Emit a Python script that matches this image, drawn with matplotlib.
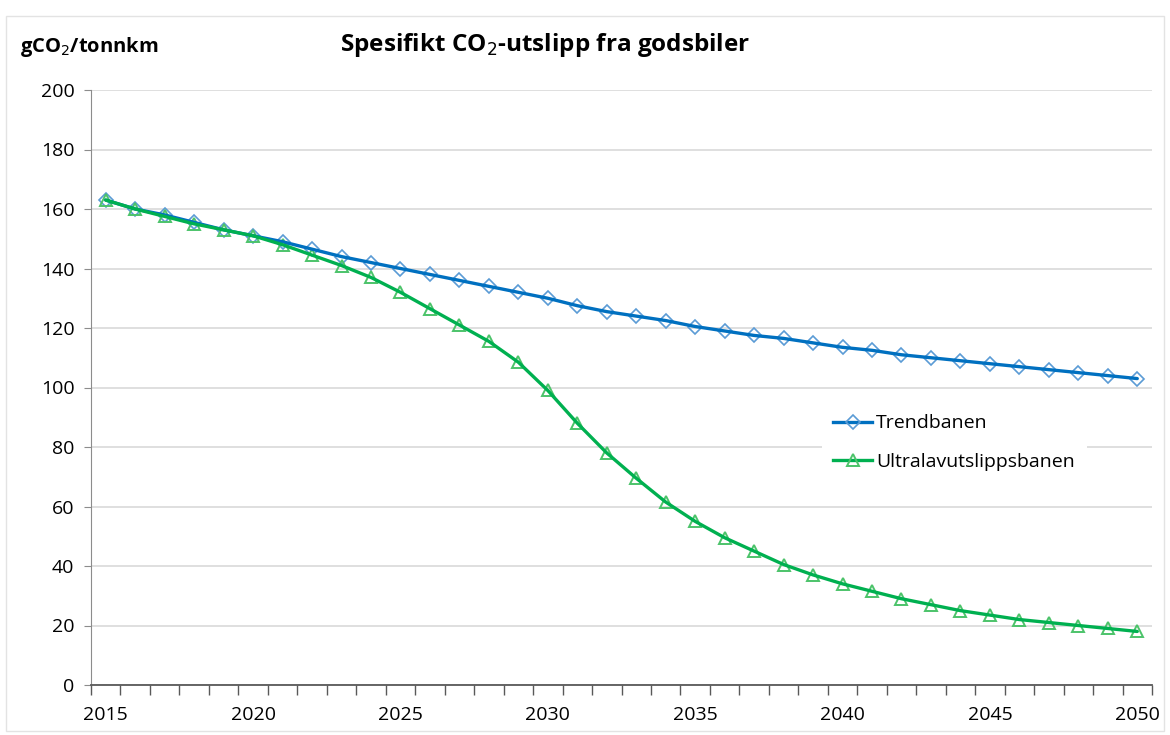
import numpy as np
import matplotlib
matplotlib.use("Agg")
import matplotlib.pyplot as plt
from matplotlib.lines import Line2D
from matplotlib.patches import Rectangle

plt.rcParams['font.family'] = ['Open Sans', 'DejaVu Sans']

years = list(range(2015, 2051))
trend = [163, 160, 158, 155.5, 153, 151, 149, 146.5, 144, 142,
         140, 138, 136, 134, 132, 130, 127.5, 125.5, 124, 122.5,
         120.5, 119, 117.5, 116.5, 115, 113.5, 112.5, 111, 110, 109,
         108, 107, 106, 105, 104, 103]
ultra = [163, 160, 157.5, 155, 153, 151, 148, 144.5, 141, 137,
         132, 126.5, 121, 115.5, 108.5, 99, 88, 78, 69.5, 61.5,
         55, 49.5, 45, 40.5, 37, 34, 31.5, 29, 27, 25,
         23.5, 22, 21, 20, 19, 18]
yticks = list(range(0, 201, 20))

fig = plt.figure(figsize=(11.7, 7.35), dpi=100)
ax = fig.add_axes([91/1170, 1-685/735, (1152-91)/1170, (685-90)/735])

# faint outer frame of the chart area
fig.patches.append(Rectangle((6/1170, 4/735), 1158/1170, (735-20)/735,
                             transform=fig.transFigure, fill=False,
                             edgecolor='#e3e3e3', lw=1))

x = np.arange(len(years))
c_trend, m_trend = '#0070C0', '#5B9BD5'
c_ultra, m_ultra = '#00B050', '#4CC36A'

ax.plot(x, trend, ls='none', marker='D', ms=7, mfc='none', mec=m_trend, mew=1.2, zorder=3)
ax.plot(x, ultra, ls='none', marker='^', ms=9, mfc='none', mec=m_ultra, mew=1.4, zorder=3)
ax.plot(x, trend, color=c_trend, lw=2.4, zorder=4, solid_capstyle='round')
ax.plot(x, ultra, color=c_ultra, lw=2.4, zorder=4, solid_capstyle='round')

ax.set_xlim(-0.5, len(years) - 0.5)
ax.set_ylim(0, 200)
ax.set_yticks(yticks)
ax.set_xticks(x[::5])
ax.set_xticklabels([str(y) for y in years[::5]])
ax.set_xticks(np.arange(-0.5, len(years)), minor=True)

ax.grid(axis='y', color='#d9d9d9', lw=1.2)
ax.set_axisbelow(True)
for s in ['top', 'right']:
    ax.spines[s].set_visible(False)
ax.spines['left'].set_color('#8c8c8c')
ax.spines['bottom'].set_color('#595959')
ax.spines['bottom'].set_linewidth(1.3)

ax.tick_params(axis='y', length=5, color='#8c8c8c', labelsize=14, pad=7, labelcolor='#000000')
ax.tick_params(axis='x', which='major', length=0, labelsize=14, pad=15)
ax.tick_params(axis='x', which='minor', length=7, color='#595959', width=1)

fig.text(340/1170, 1-45/735, 'Spesifikt CO$_2$-utslipp fra godsbiler',
         fontsize=17.5, fontweight='bold', ha='left', va='center')
fig.text(20/1170, 1-47/735, 'gCO$_2$/tonnkm',
         fontsize=14.5, fontweight='bold', ha='left', va='center')

handles = [
    Line2D([], [], color=c_trend, lw=2.4, marker='D', ms=7, mfc='none', mec=m_trend, mew=1.2),
    Line2D([], [], color=c_ultra, lw=2.4, marker='^', ms=9, mfc='none', mec=m_ultra, mew=1.4),
]
leg = ax.legend(handles, ['Trendbanen', 'Ultralavutslippsbanen'],
                loc='upper left', bbox_to_anchor=((812-91)/1061, (685-393)/595),
                frameon=True, framealpha=1, edgecolor='none', fontsize=14,
                handlelength=2.0, handletextpad=0.2, labelspacing=1.05,
                borderpad=0.6)

fig.savefig('out.png', dpi=100)
